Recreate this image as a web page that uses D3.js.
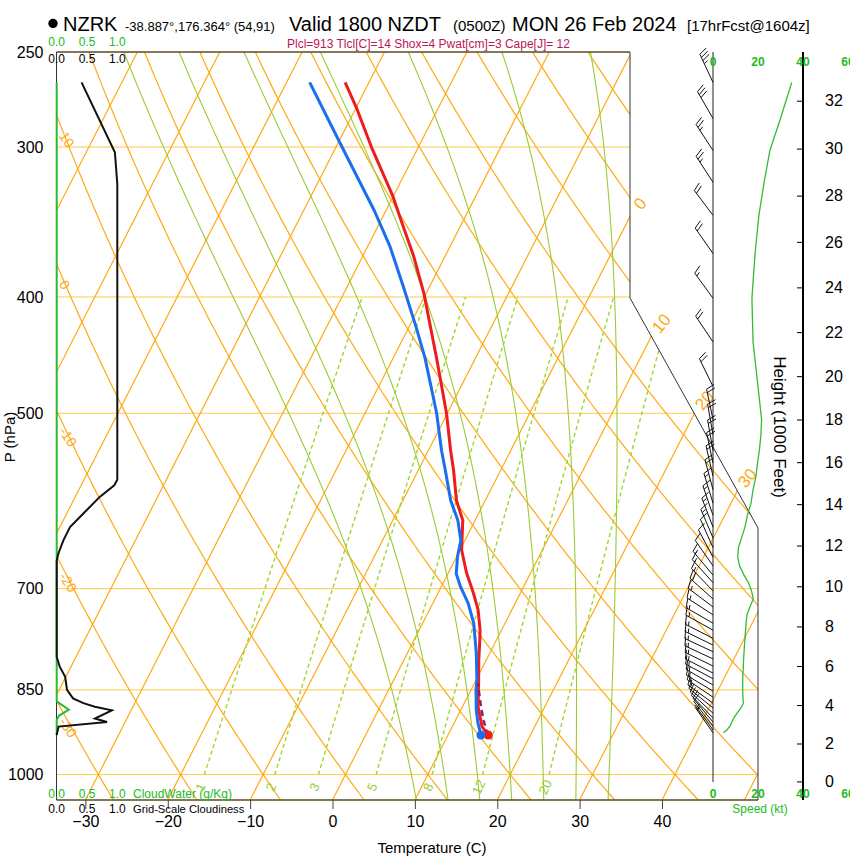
<!DOCTYPE html>
<html>
<head>
<meta charset="utf-8">
<script src="https://cdn.jsdelivr.net/npm/d3@7/dist/d3.min.js"></script>
<style>
body { margin: 0; background: #fff; }
text { font-family: "Liberation Sans", Arial, Helvetica, sans-serif; }
</style>
</head>
<body>
<svg id="chart" width="850" height="860"></svg>
<script>
// ---- sounding data ----
var tempP = [265, 278, 300, 330, 347, 370, 397, 449, 500, 537, 558, 591, 614, 650, 679, 706, 729, 758, 773, 803, 839, 850, 878, 912, 927];
var tempC = [-42.9, -40.0, -35.7, -30.0, -27.3, -23.8, -20.3, -14.8, -10.1, -7.3, -5.7, -3.5, -1.5, 0.2, 2.2, 4.3, 5.9, 7.4, 8.0, 9.1, 10.5, 10.9, 11.9, 13.6, 14.9];
var dewP = [265, 298, 339, 363, 392, 424, 450, 500, 537, 558, 591, 614, 638, 658, 680, 697, 720, 748, 793, 834, 850, 884, 906, 927];
var dewC = [-47.2, -39.7, -31.4, -27.3, -23.2, -19.1, -16.1, -11.3, -8.4, -6.7, -4.2, -2.1, -0.5, 0.1, 1.0, 2.3, 4.3, 6.2, 8.4, 10.1, 10.6, 11.9, 12.9, 14.0];
var parcelP = [927, 923, 901, 879, 839];
var parcelC = [14.9, 14.6, 13.4, 12.3, 10.4];

// winds (hPa, deg, kt)
var windP = [265, 284, 302, 321, 342, 368, 401, 436, 475, 506, 521, 537, 550, 564, 579, 594, 608, 622, 635, 647, 659, 670, 682, 692, 703, 714, 725, 736, 748, 758, 770, 780, 790, 801, 812, 823, 832, 842, 852, 862, 872, 880, 889, 897, 904, 911, 918, 923];
var windDir = [335, 330, 327, 327, 323, 325, 324, 326, 334, 348, 350, 350, 348, 347, 345, 343, 341, 339, 337, 336, 332, 325, 320, 318, 316, 312, 307, 303, 300, 299, 297, 296, 295, 295, 296, 297, 298, 300, 301, 304, 306, 309, 313, 316, 320, 322, 324, 325];
var windSpd = [35, 30, 25.3, 22.7, 20.4, 18.7, 17.3, 17.8, 20, 21.6, 21.3, 20.6, 19.8, 19.1, 17.8, 16.9, 15.3, 14.2, 12.7, 11.3, 11.0, 11.8, 13.8, 15.8, 17.1, 17.9, 16.4, 15.1, 14.7, 14.5, 14.2, 14.0, 13.8, 13.6, 13.5, 13.3, 13.2, 13.2, 13.2, 13.3, 13.5, 12.4, 10.7, 9.3, 8.4, 7.6, 6.2, 4.6];

// grid-scale cloudiness (0-1) and cloud water (g/kg)
var cloudP = [265, 303, 322, 568, 574, 587, 606, 622, 638, 654, 663, 798, 813, 829, 850, 864, 872, 878, 884, 898, 904, 912, 927];
var cloudFrac = [0.41, 0.96, 1.0, 1.0, 0.95, 0.71, 0.44, 0.22, 0.11, 0.03, 0, 0, 0.05, 0.14, 0.17, 0.27, 0.44, 0.63, 0.91, 0.63, 0.83, 0.03, 0];
var cwP = [265, 869, 883, 893, 900, 927];
var cwVal = [0, 0, 0.2, 0.04, 0, 0];

// chart furniture
var isobars = [250, 300, 400, 500, 700, 850, 1000];
var tempTicks = [-30, -20, -10, 0, 10, 20, 30, 40];
var isotherms = d3.range(-110, 60, 10);
var dryAdiabats = d3.range(-40, 190, 10);
var moistThetaW = [8, 12, 16, 20, 24, 28, 32];
var mixRatios = [1, 2, 3, 5, 8, 12, 20];
var isoLabels = [0, 10, 20, 30];
var dryLabels = [10, 0, -10, -20, -30];
var heightTicks = d3.range(0, 33, 2);
var speedTicks = [0, 20, 40, 60];
var cloudTicks = [0, 0.5, 1.0];

var svg = d3.select("#chart");

var plotL = 56.5, plotT = 52, plotB = 800, plotR1 = 630, plotR2 = 758, cornerY1 = 298, cornerY2 = 528;
var y = d3.scaleLog().domain([1050, 250]).range([plotB, plotT]);
var xT = d3.scaleLinear().domain([0, 40]).range([332.5, 662]);
var skew = 0.51;
function sx(T, p) { return xT(T) + skew * (plotB - y(p)); }
var spdX = d3.scaleLinear().domain([0, 60]).range([713, 848]);
var cloudX = d3.scaleLinear().domain([0, 1]).range([56.7, 117.3]);

// standard atmosphere for the height axis
function stdP(kft) { return 1013.25 * Math.pow(1 - 2.25577e-5 * kft * 304.8, 5.25588); }
var hY = d3.scaleLinear().domain(heightTicks).range(heightTicks.map(function(h) { return y(stdP(h)); }));

var ORANGE = "#ffaa14", GREEN = "#99cc33";

svg.append("defs").append("clipPath").attr("id", "plotclip")
    .append("polygon")
    .attr("points", [[plotL, plotT], [plotR1, plotT], [plotR1, cornerY1], [plotR2, cornerY2], [plotR2, plotB], [plotL, plotB]].join(" "));

var plot = svg.append("g").attr("clip-path", "url(#plotclip)");

// isobars
plot.selectAll(".isobar").data(isobars.filter(function(p) { return p > 250; }))
    .enter().append("line")
    .attr("x1", plotL).attr("x2", plotR2)
    .attr("y1", function(p) { return y(p); }).attr("y2", function(p) { return y(p); })
    .attr("stroke", "#ffc84a").attr("stroke-width", 1);

// isotherms
plot.selectAll(".isotherm").data(isotherms).enter().append("line")
    .attr("x1", function(t) { return sx(t, 1050); }).attr("y1", y(1050))
    .attr("x2", function(t) { return sx(t, 250); }).attr("y2", y(250))
    .attr("stroke", ORANGE).attr("stroke-width", 1.2);

var pLevels = d3.range(1050, 245, -5);
var line = d3.line().x(function(d) { return d[0]; }).y(function(d) { return d[1]; });

// dry adiabats
function dryT(th, p) { return (th + 273.15) * Math.pow(p / 1000, 0.2857) - 273.15; }
plot.selectAll(".dry").data(dryAdiabats).enter().append("path")
    .attr("d", function(th) {
        return line(pLevels.map(function(p) { return [sx(dryT(th, p), p), y(p)]; }));
    })
    .attr("fill", "none").attr("stroke", ORANGE).attr("stroke-width", 1.2);

// moist adiabats (pseudo-adiabatic lapse rate)
function dTdp(p, Tk) {
    var Tc = Tk - 273.15;
    var es = 6.112 * Math.exp(17.67 * Tc / (Tc + 243.5));
    var rs = 0.622 * es / (p - es);
    var num = 287.04 * Tk + 2.501e6 * rs;
    var den = 1005.7 + 2.501e6 * 2.501e6 * rs * 0.622 / (287.04 * Tk * Tk);
    return num / (p * den);
}
function rk4(p, T, h) {
    var k1 = dTdp(p, T), k2 = dTdp(p + h / 2, T + h * k1 / 2),
        k3 = dTdp(p + h / 2, T + h * k2 / 2), k4 = dTdp(p + h, T + h * k3);
    return T + h * (k1 + 2 * k2 + 2 * k3 + k4) / 6;
}
function moistLine(thw) {
    var pts = [], T = thw + 273.15, p;
    var down = [];
    for (p = 1000; p < 1050; p += 5) { T = rk4(p, T, 5); down.push([p + 5, T]); }
    down.reverse().forEach(function(d) { pts.push(d); });
    T = thw + 273.15;
    pts.push([1000, T]);
    for (p = 1000; p > 250; p -= 5) { T = rk4(p, T, -5); pts.push([p - 5, T]); }
    return pts.map(function(d) { return [sx(d[1] - 273.15, d[0]), y(d[0])]; });
}
plot.selectAll(".moist").data(moistThetaW).enter().append("path")
    .attr("d", function(t) { return line(moistLine(t)); })
    .attr("fill", "none").attr("stroke", GREEN).attr("stroke-width", 1.1);

// mixing ratio lines
function mixTd(w, p) {
    var e = w * p / (622 + w), l = Math.log(e / 6.112);
    return 243.5 * l / (17.67 - l);
}
plot.selectAll(".mix").data(mixRatios).enter().append("path")
    .attr("d", function(w) {
        return line(d3.range(1000, 395, -10).map(function(p) { return [sx(mixTd(w, p), p), y(p)]; }));
    })
    .attr("fill", "none").attr("stroke", "#9fd62a").attr("stroke-width", 1.4)
    .attr("stroke-dasharray", "4,3");

// dry adiabat labels at the left edge
function dryExit(th) {
    var best = 250, bd = 1e9;
    for (var p = 250; p <= 1050; p += 1) {
        var d = Math.abs(sx(dryT(th, p), p) - plotL);
        if (d < bd) { bd = d; best = p; }
    }
    return y(best);
}
plot.selectAll(".drylab").data(dryLabels).enter().append("text")
    .attr("transform", function(th) { return "translate(" + (plotL + 2) + "," + (dryExit(th) + 21) + ") rotate(57)"; })
    .attr("font-size", 14).attr("fill", ORANGE)
    .text(function(d) { return d; });

// frame
svg.append("path")
    .attr("d", "M" + plotR1 + "," + plotT + "V" + cornerY1 + "L" + plotR2 + "," + cornerY2 + "V" + plotB)
    .attr("fill", "none").attr("stroke", "#333").attr("stroke-width", 1);
svg.append("line").attr("x1", plotL).attr("x2", plotR1).attr("y1", plotT).attr("y2", plotT)
    .attr("stroke", "#5c4a1e").attr("stroke-width", 1.5);
svg.append("line").attr("x1", plotL).attr("x2", plotR2).attr("y1", plotB).attr("y2", plotB)
    .attr("stroke", "#5c4a1e").attr("stroke-width", 1.5);
svg.append("line").attr("x1", plotL).attr("x2", plotL).attr("y1", plotT).attr("y2", plotB)
    .attr("stroke", "#333").attr("stroke-width", 1);

// isotherm labels beyond the right boundary
function isoExit(t) {
    var best = 52, bd = 1e9;
    for (var yy = plotT; yy <= plotB; yy += 0.5) {
        var bx = yy < cornerY1 ? plotR1 : (yy < cornerY2 ? plotR1 + (yy - cornerY1) * (plotR2 - plotR1) / (cornerY2 - cornerY1) : plotR2);
        var d = Math.abs(sx(t, y.invert(yy)) - bx);
        if (d < bd) { bd = d; best = yy; }
    }
    return [sx(t, y.invert(best)), best];
}
svg.selectAll(".isolab").data(isoLabels).enter().append("text")
    .attr("transform", function(t) { var e = isoExit(t); return "translate(" + (e[0] + 10) + "," + (e[1] - 13) + ") rotate(-50)"; })
    .attr("text-anchor", "middle").attr("dy", "0.35em")
    .attr("font-size", 17).attr("fill", ORANGE)
    .text(function(d) { return d; });

// mixing ratio labels
svg.selectAll(".mixlab").data(mixRatios).enter().append("text")
    .attr("transform", function(w) { return "translate(" + (sx(mixTd(w, 1000), 1000) - 4) + ",787) rotate(-65)"; })
    .attr("text-anchor", "middle").attr("dy", "0.35em")
    .attr("font-size", 13).attr("fill", GREEN)
    .text(function(d) { return d; });

// cloud water and cloudiness
svg.append("path")
    .attr("d", line(cwP.map(function(p, i) { return [cloudX(cwVal[i]), y(p)]; })))
    .attr("fill", "none").attr("stroke", "#2db82d").attr("stroke-width", 2);
svg.append("path")
    .attr("d", line(cloudP.map(function(p, i) { return [cloudX(cloudFrac[i]), y(p)]; })))
    .attr("fill", "none").attr("stroke", "#111").attr("stroke-width", 2);

// profiles
svg.append("path")
    .attr("d", line(tempP.map(function(p, i) { return [sx(tempC[i], p), y(p)]; })))
    .attr("fill", "none").attr("stroke", "#ee1c1c").attr("stroke-width", 3).attr("stroke-linejoin", "round");
svg.append("path")
    .attr("d", line(dewP.map(function(p, i) { return [sx(dewC[i], p), y(p)]; })))
    .attr("fill", "none").attr("stroke", "#1a6fee").attr("stroke-width", 3).attr("stroke-linejoin", "round");
svg.append("path")
    .attr("d", line(parcelP.map(function(p, i) { return [sx(parcelC[i], p), y(p)]; })))
    .attr("fill", "none").attr("stroke", "#8a1f6e").attr("stroke-width", 2.5).attr("stroke-dasharray", "6,4");
svg.append("circle").attr("cx", sx(tempC[tempC.length - 1], tempP[tempP.length - 1])).attr("cy", y(tempP[tempP.length - 1]))
    .attr("r", 4.5).attr("fill", "#ee1c1c");
svg.append("circle").attr("cx", sx(dewC[dewC.length - 1], dewP[dewP.length - 1])).attr("cy", y(dewP[dewP.length - 1]))
    .attr("r", 4.5).attr("fill", "#1a6fee");

// axes
var ax = svg.append("g").attr("transform", "translate(0," + plotB + ")")
    .call(d3.axisBottom(xT).tickValues(tempTicks).tickSize(9).tickPadding(7));
ax.select(".domain").remove();
ax.selectAll("line").attr("stroke", "#444");
ax.selectAll("text").attr("font-size", 16).attr("font-family", null).attr("fill", "#000");

var ay = svg.append("g").attr("transform", "translate(" + plotL + ",0)")
    .call(d3.axisLeft(y).tickValues(isobars).tickFormat(d3.format("d")).tickSize(0).tickPadding(13));
ay.select(".domain").remove();
ay.selectAll("text").attr("font-size", 16).attr("font-family", null).attr("fill", "#000");

// wind speed panel
svg.append("line").attr("x1", spdX(0)).attr("x2", spdX(0)).attr("y1", plotT).attr("y2", 782)
    .attr("stroke", "#222").attr("stroke-width", 1);
svg.append("line").attr("x1", spdX(40)).attr("x2", spdX(40)).attr("y1", plotT).attr("y2", plotB)
    .attr("stroke", "#000").attr("stroke-width", 2);

var ah = svg.append("g").attr("transform", "translate(" + spdX(40) + ",0)")
    .call(d3.axisRight(hY).tickValues(heightTicks).tickSize(-6).tickPadding(22));
ah.select(".domain").remove();
ah.selectAll("line").attr("stroke", "#000");
ah.selectAll("text").attr("text-anchor", "start").attr("font-size", 16).attr("font-family", null).attr("fill", "#000");

[66, 798].forEach(function(by) {
    svg.selectAll(null).data(speedTicks).enter().append("text")
        .attr("x", function(d) { return spdX(d); }).attr("y", by)
        .attr("text-anchor", "middle").attr("font-size", 12).attr("font-weight", "bold")
        .attr("fill", "#22bb22").text(function(d) { return d; });
});

svg.append("path")
    .attr("d", line(windP.map(function(p, i) { return [spdX(windSpd[i]), y(p)]; })))
    .attr("fill", "none").attr("stroke", "#33bb33").attr("stroke-width", 1.3);

// wind barbs
function barb(p, dir, spd) {
    var x0 = spdX(0), y0 = y(p), L = 31, r = dir * Math.PI / 180;
    var ux = Math.sin(r), uy = -Math.cos(r);
    var tx = x0 + L * ux, ty = y0 + L * uy;
    var a = 70 * Math.PI / 180;
    var fx = ux * Math.cos(a) - uy * Math.sin(a), fy = ux * Math.sin(a) + uy * Math.cos(a);
    var d = "M" + x0 + "," + y0 + "L" + tx + "," + ty;
    var n = Math.round(spd / 5), full = Math.floor(n / 2), half = n % 2, k = 0;
    for (var i = 0; i < full; i++, k++) {
        var bx = tx - k * 3.5 * ux, by = ty - k * 3.5 * uy;
        d += "M" + bx + "," + by + "l" + (9 * fx) + "," + (9 * fy);
    }
    if (half) {
        if (k === 0) k = 1;
        var hx = tx - k * 3.5 * ux, hy = ty - k * 3.5 * uy;
        d += "M" + hx + "," + hy + "l" + (4.5 * fx) + "," + (4.5 * fy);
    }
    return d;
}
svg.append("g").selectAll("path").data(windP).enter().append("path")
    .attr("d", function(p, i) { return barb(p, windDir[i], windSpd[i]); })
    .attr("fill", "none").attr("stroke", "#111").attr("stroke-width", 1);

// cloud scale labels
function cloudLabels(by, col) {
    svg.selectAll(null).data(cloudTicks).enter().append("text")
        .attr("x", function(d) { return cloudX(d); }).attr("y", by)
        .attr("text-anchor", "middle").attr("font-size", 12).attr("fill", col)
        .text(function(d) { return d.toFixed(1); });
}
cloudLabels(46, "#22bb22");
cloudLabels(63, "#000");
cloudLabels(798, "#22bb22");
cloudLabels(812.5, "#000");
svg.append("text").attr("x", 133).attr("y", 798).attr("font-size", 12).attr("fill", "#22bb22").text("CloudWater (g/Kg)");
svg.append("text").attr("x", 133).attr("y", 812.5).attr("font-size", 11.2).attr("fill", "#000").text("Grid-Scale Cloudiness");
svg.append("text").attr("x", 760).attr("y", 813).attr("text-anchor", "middle").attr("font-size", 12).attr("fill", "#22bb22").text("Speed (kt)");

// axis titles
svg.append("text").attr("x", 432).attr("y", 853).attr("text-anchor", "middle").attr("font-size", 15).text("Temperature (C)");
svg.append("text").attr("transform", "translate(15,437) rotate(-90)").attr("text-anchor", "middle").attr("font-size", 15).text("P (hPa)");
svg.append("text").attr("transform", "translate(774,427) rotate(90)").attr("text-anchor", "middle").attr("font-size", 17).text("Height (1000 Feet)");

// header
svg.append("circle").attr("cx", 53).attr("cy", 23.5).attr("r", 4.7).attr("fill", "#000");
svg.append("text").attr("x", 63).attr("y", 31).attr("font-size", 20).text("NZRK");
svg.append("text").attr("x", 125).attr("y", 31).attr("font-size", 13).text("-38.887°,176.364° (54,91)");
svg.append("text").attr("x", 289).attr("y", 31).attr("font-size", 20).text("Valid 1800 NZDT");
svg.append("text").attr("x", 453).attr("y", 31).attr("font-size", 15).text("(0500Z)");
svg.append("text").attr("x", 512).attr("y", 31).attr("font-size", 20).text("MON 26 Feb 2024");
svg.append("text").attr("x", 687).attr("y", 31).attr("font-size", 15).text("[17hrFcst@1604z]");
svg.append("text").attr("x", 287).attr("y", 48).attr("font-size", 12).attr("fill", "#bb1658")
    .text("Plcl=913 Tlcl[C]=14 Shox=4 Pwat[cm]=3 Cape[J]= 12");
</script>
</body>
</html>
